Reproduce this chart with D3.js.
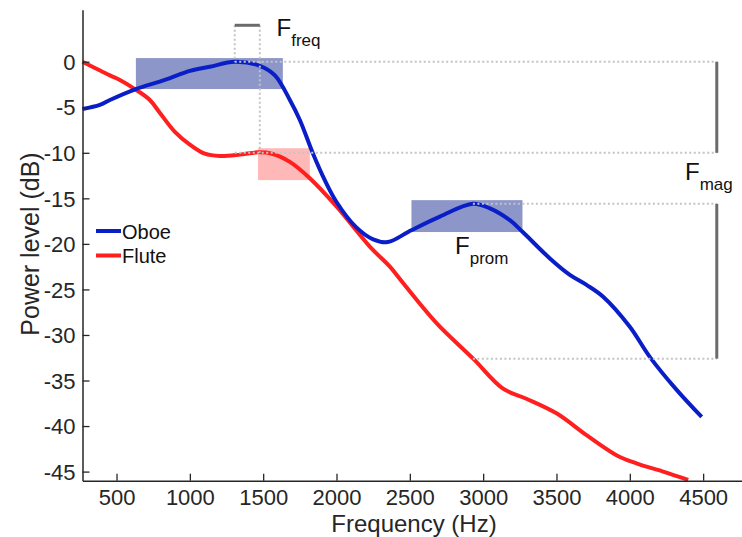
<!DOCTYPE html>
<html>
<head>
<meta charset="utf-8">
<script src="https://cdn.jsdelivr.net/npm/d3@7"></script>
<style>
  html, body { margin: 0; padding: 0; background: #fff; }
  svg { display: block; font-family: "Liberation Sans", Arial, Helvetica, sans-serif; }
</style>
</head>
<body>
<svg id="chart" width="742" height="537"></svg>
<script>
// ---- data ----
const oboeHz = [268, 386, 455, 632, 830, 1000, 1136, 1306, 1477, 1580, 1682, 1750, 1840, 1920, 2000, 2130, 2250, 2350, 2510, 2705, 2930, 3046, 3182, 3270, 3455, 3591, 3705, 3818, 4000, 4136, 4318, 4490];
const oboeDb = [-5.2, -4.75, -4.2, -3.0, -2.0, -1.0, -0.55, 0, -0.45, -1.5, -4.2, -6.4, -10.1, -13.0, -15.4, -18.1, -19.5, -19.8, -18.5, -17.0, -15.6, -16.1, -17.4, -18.7, -21.6, -23.4, -24.5, -25.8, -29.1, -32.4, -36.0, -39.0];
const fluteHz = [268, 455, 523, 625, 727, 795, 898, 1000, 1102, 1205, 1341, 1464, 1560, 1682, 1818, 2000, 2227, 2364, 2454, 2682, 2932, 3136, 3295, 3500, 3705, 3909, 4045, 4227, 4398];
const fluteDb = [0, -1.5, -2.0, -3.0, -4.2, -5.6, -7.7, -9.1, -10.1, -10.35, -10.2, -9.95, -10.1, -11.0, -12.8, -15.9, -20.3, -22.5, -24.3, -28.7, -32.6, -35.9, -37.0, -38.6, -41.0, -43.2, -44.1, -45.0, -45.9];
const seriesNames = ["Oboe", "Flute"];
const xTicks = [500, 1000, 1500, 2000, 2500, 3000, 3500, 4000, 4500];
const yTicks = [0, -5, -10, -15, -20, -25, -30, -35, -40, -45];

// formant boxes (Hz range, dB range)
const boxX0 = [632, 1465, 2511];
const boxX1 = [1634, 1818, 3268];
const boxTop = [0.4, -9.5, -15.2];
const boxBottom = [-3.0, -13.0, -18.7];

// annotation values
const peakOboeHz = 1306, peakFluteHz = 1477, prom2Hz = 2930;
const fmagHz = 4593;
const bracketDb = 4;
const levels = { oboePeak: 0, flutePeak: -10, oboePeak2: -15.6, flutePeak2: -32.6 };

// ---- layout ----
const svg = d3.select("#chart");
const x = d3.scaleLinear().domain([268, 4765]).range([82.5, 742]);
const y = d3.scaleLinear().domain([5.7, -46]).range([9.8, 480.7]);

const axisColor = "#262626";
const blue = "#0a1ec8";
const red = "#ff1f1f";
const dotColor = "#c4c4c4";
const barColor = "#6b6b6b";

// boxes
const boxColors = ["#8c96c8", "#ffb8b8", "#8c96c8"];
svg.append("g").selectAll("rect").data(boxX0).join("rect")
  .attr("x", (d, i) => x(d))
  .attr("y", (d, i) => y(boxTop[i]))
  .attr("width", (d, i) => x(boxX1[i]) - x(d))
  .attr("height", (d, i) => y(boxBottom[i]) - y(boxTop[i]))
  .attr("fill", (d, i) => boxColors[i]);

// dotted guides
const dotted = [
  [peakOboeHz, bracketDb, peakOboeHz, levels.oboePeak],
  [peakFluteHz, bracketDb, peakFluteHz, levels.flutePeak],
  [peakOboeHz, levels.oboePeak, fmagHz, levels.oboePeak],
  [peakOboeHz, levels.flutePeak, fmagHz, levels.flutePeak],
  [prom2Hz, levels.oboePeak2, fmagHz, levels.oboePeak2],
  [prom2Hz, levels.flutePeak2, fmagHz, levels.flutePeak2]
];

// lines
const line = d3.line().x(d => x(d[0])).y(d => y(d[1])).curve(d3.curveCatmullRom.alpha(0.5));
svg.append("path").datum(fluteHz.map((h, i) => [h, fluteDb[i]]))
  .attr("d", line).attr("fill", "none").attr("stroke", red).attr("stroke-width", 4);
svg.append("path").datum(oboeHz.map((h, i) => [h, oboeDb[i]]))
  .attr("d", line).attr("fill", "none").attr("stroke", blue).attr("stroke-width", 4);

svg.append("g").selectAll("line").data(dotted).join("line")
  .attr("x1", d => x(d[0])).attr("y1", d => y(d[1]))
  .attr("x2", d => x(d[2])).attr("y2", d => y(d[3]))
  .attr("stroke", dotColor).attr("stroke-width", 2).attr("stroke-dasharray", "2,2.5");

// bracket and magnitude bars
const bars = [
  [peakOboeHz, bracketDb, peakFluteHz, bracketDb],
  [fmagHz, levels.oboePeak, fmagHz, levels.flutePeak],
  [fmagHz, levels.oboePeak2, fmagHz, levels.flutePeak2]
];
svg.append("g").selectAll("line").data(bars).join("line")
  .attr("x1", d => x(d[0])).attr("y1", d => y(d[1]))
  .attr("x2", d => x(d[2])).attr("y2", d => y(d[3]))
  .attr("stroke", barColor).attr("stroke-width", 3);

// axes
const xAxis = d3.axisBottom(x).tickValues(xTicks).tickFormat(d3.format("d"))
  .tickSize(-7).tickSizeOuter(0).tickPadding(0);
const gx = svg.append("g").attr("transform", "translate(0,480.7)").call(xAxis);
gx.select(".domain").attr("stroke", axisColor).attr("stroke-width", 1.5);
gx.selectAll(".tick line").attr("stroke", axisColor).attr("stroke-width", 1.3);
gx.selectAll(".tick text").attr("fill", axisColor).attr("font-size", 22)
  .attr("dy", null).attr("y", 24);

const yAxis = d3.axisLeft(y).tickValues(yTicks).tickFormat(d3.format("d"))
  .tickSize(-7).tickSizeOuter(0).tickPadding(7);
const gy = svg.append("g").attr("transform", "translate(82.5,0)").call(yAxis);
gy.select(".domain").attr("stroke", axisColor).attr("stroke-width", 1.5);
gy.selectAll(".tick line").attr("stroke", axisColor).attr("stroke-width", 1.3);
gy.selectAll(".tick text").attr("fill", axisColor).attr("font-size", 22).attr("dy", "0.35em")
  .text(d => d < 0 ? "-" + Math.abs(d) : String(d));

// axis titles
svg.append("text").attr("x", 414).attr("y", 532).attr("text-anchor", "middle")
  .attr("font-size", 24).attr("fill", axisColor).text("Frequency (Hz)");
svg.append("text").attr("transform", "translate(39,244) rotate(-90)").attr("text-anchor", "middle")
  .attr("font-size", 25).attr("fill", axisColor).text("Power level (dB)");

// legend
const legColors = [blue, red];
const leg = svg.append("g");
seriesNames.forEach((name, i) => {
  const ly = 231 + i * 24.5;
  leg.append("line").attr("x1", 96).attr("x2", 121).attr("y1", ly).attr("y2", ly)
    .attr("stroke", legColors[i]).attr("stroke-width", 4);
  leg.append("text").attr("x", 122).attr("y", ly + 7.5).attr("font-size", 20)
    .attr("fill", "#111").text(name);
});

// F labels
function fLabel(px, py, sub) {
  const t = svg.append("text").attr("x", px).attr("y", py).attr("fill", "#111").attr("font-size", 24);
  t.append("tspan").text("F");
  t.append("tspan").attr("font-size", 17).attr("dy", 10).text(sub);
}
fLabel(276.5, 36, "freq");
fLabel(685, 179.5, "mag");
fLabel(455, 253.5, "prom");
</script>
</body>
</html>
